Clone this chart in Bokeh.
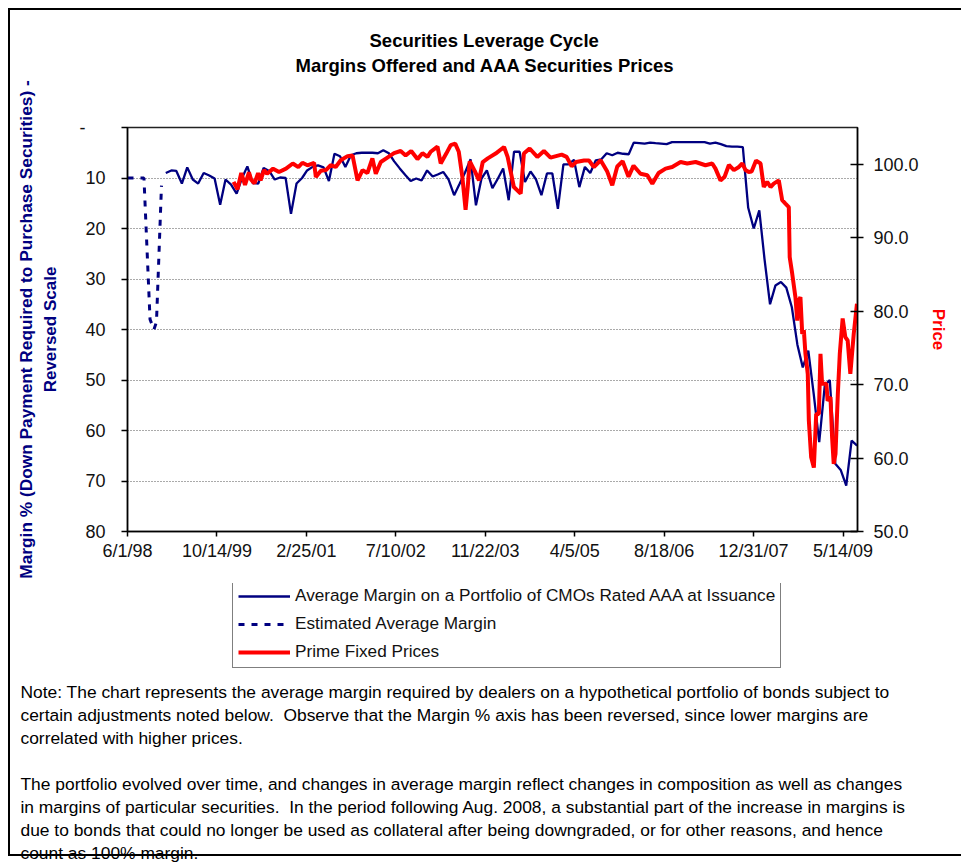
import numpy as np
import pandas as pd
from bokeh.plotting import figure
from bokeh.layouts import column
from bokeh.models import (Range1d, LinearAxis, FixedTicker, Legend, LegendItem, Title,
                          Label, NumeralTickFormatter)
from bokeh.embed import file_html
from bokeh.resources import INLINE

TITLE = ["Securities Leverage Cycle", "Margins Offered and AAA Securities Prices"]
LEFT_TITLE = ["Margin % (Down Payment Required to Purchase Securities) -", "Reversed Scale"]
RIGHT_TITLE = "Price"

tick_dates = ["1998-06-01", "1999-10-14", "2001-02-25", "2002-07-10", "2003-11-22",
              "2005-04-05", "2006-08-18", "2007-12-31", "2009-05-14"]
tick_labels = ["6/1/98", "10/14/99", "2/25/01", "7/10/02", "11/22/03",
               "4/5/05", "8/18/06", "12/31/07", "5/14/09"]
x_end_date = "2009-08-03"
margin_ticks = [0, 10, 20, 30, 40, 50, 60, 70, 80]
margin_grid = [10, 20, 30, 40, 50, 60, 70]
price_ticks = [50, 60, 70, 80, 90, 100]

# Estimated average margin (dashed)
est_dates = ["1998-06-01", "1998-09-01", "1998-10-05", "1998-10-27", "1998-11-10", "1998-12-08"]
est_margin = [10, 10, 38, 40, 38.5, 11.5]

# Average margin, monthly from Jan 1999
margin_start = "1999-01-01"
margin_values = [
    9.0, 8.5, 8.6, 11.1, 7.9, 10.3, 11.1, 9.0, 9.5, 10.1, 15.3, 10.3,
    11.3, 13.1, 10.1, 7.7, 11.0, 11.1, 8.0, 8.6, 10.3, 9.9, 10.0, 17.1,
    11.1, 10.0, 8.5, 7.8, 7.5, 7.9, 10.6, 5.2, 5.7, 7.8, 5.5, 5.1,
    5.0, 5.0, 5.0, 5.1, 4.5, 5.1, 6.7, 8.1, 9.4, 10.6, 10.1, 10.5,
    8.5, 9.7, 9.3, 8.8, 10.3, 13.4, 11.2, 8.9, 6.3, 15.4, 10.1, 8.5,
    12.0, 10.1, 8.1, 14.4, 4.8, 4.8, 10.8, 8.7, 10.3, 13.4, 9.1, 9.1,
    16.1, 7.3, 7.3, 6.4, 11.8, 7.8, 9.0, 6.5, 6.3, 5.1, 5.5, 5.0,
    5.2, 5.3, 3.0, 3.1, 3.2, 3.0, 3.1, 3.2, 3.3, 2.9, 2.9, 2.9,
    2.9, 2.9, 2.9, 2.9, 3.2, 3.0, 3.3, 3.7, 3.8, 3.8, 3.9, 15.9,
    20.0, 16.4, 26.0, 35.0, 31.3, 30.6, 31.7, 35.6, 43.0, 47.5, 44.2, 52.7,
    62.3, 51.1, 50.0, 66.6, 67.8, 70.9, 62.0, 63.0,
]

# Prime fixed prices
price_dates = [
    "2000-01-15", "2000-02-06", "2000-02-27", "2000-03-19", "2000-04-10", "2000-04-22",
    "2000-05-11", "2000-05-31", "2000-06-14", "2000-07-03", "2000-07-20", "2000-08-23",
    "2000-09-25", "2000-11-03", "2000-12-11", "2001-01-11", "2001-02-03", "2001-03-03",
    "2001-04-09", "2001-04-19", "2001-05-17", "2001-06-14", "2001-07-11", "2001-08-08",
    "2001-09-05", "2001-10-13", "2001-11-10", "2001-12-08", "2002-01-05", "2002-02-01",
    "2002-03-01", "2002-03-20", "2002-04-17", "2002-05-24", "2002-06-30", "2002-08-06",
    "2002-09-03", "2002-10-04", "2002-11-08", "2002-12-06", "2003-01-03", "2003-01-21",
    "2003-02-28", "2003-03-18", "2003-04-18", "2003-05-13", "2003-06-07", "2003-06-27",
    "2003-07-17", "2003-08-04", "2003-08-16", "2003-08-27", "2003-09-24", "2003-10-18",
    "2003-11-08", "2003-12-06", "2004-01-19", "2004-03-06", "2004-03-26", "2004-04-30",
    "2004-06-07", "2004-06-25", "2004-07-27", "2004-09-08", "2004-10-15", "2004-11-21",
    "2005-01-22", "2005-02-19", "2005-03-19", "2005-04-13", "2005-05-27", "2005-06-24",
    "2005-07-21", "2005-08-28", "2005-10-04", "2005-11-01", "2005-11-29", "2005-12-29",
    "2006-01-31", "2006-02-28", "2006-04-08", "2006-05-16", "2006-06-13", "2006-07-18",
    "2006-08-26", "2006-10-02", "2006-11-18", "2006-12-25", "2007-02-10", "2007-04-06",
    "2007-05-14", "2007-06-01", "2007-06-29", "2007-07-22", "2007-08-15", "2007-09-12",
    "2007-10-10", "2007-10-29", "2007-11-16", "2007-12-04", "2007-12-20", "2008-01-14",
    "2008-02-08", "2008-02-26", "2008-03-16", "2008-04-04", "2008-04-22", "2008-05-20",
    "2008-06-08", "2008-06-26", "2008-07-15", "2008-07-20", "2008-08-03", "2008-08-21",
    "2008-08-31", "2008-09-09", "2008-09-18", "2008-09-28", "2008-10-07", "2008-10-16",
    "2008-10-29", "2008-11-04", "2008-11-17", "2008-12-02", "2008-12-15", "2008-12-30",
    "2009-01-08", "2009-01-17", "2009-02-10", "2009-02-17", "2009-03-05", "2009-03-14",
    "2009-03-23", "2009-04-02", "2009-04-15", "2009-04-26", "2009-05-12", "2009-05-27",
    "2009-06-09", "2009-06-24", "2009-07-13", "2009-07-31",
]
price_values = [
    97.6, 96.6, 98.8, 97.2, 98.9, 97.9,
    97.4, 98.8, 97.8, 99.2, 98.7, 99.4,
    98.95, 99.4, 100.1, 99.6, 100.2, 99.86,
    100.2, 98.26, 99.1, 99.2, 99.86, 99.63,
    100.54, 101.1, 101.2, 97.8, 99.2, 98.8,
    100.8, 98.7, 100.3, 100.9, 101.5, 101.8,
    101.2, 101.8, 100.7, 101.5, 101.0, 101.7,
    102.4, 100.1, 101.45, 102.6, 102.8, 101.7,
    98.26, 93.8, 96.9, 100.4, 99.1, 97.8,
    100.3, 100.8, 101.45, 102.35, 101.0, 96.9,
    96.0, 101.45, 102.14, 101.0, 101.8, 100.9,
    101.3, 101.0, 99.7, 100.3, 100.5, 100.5,
    99.6, 100.54, 99.0, 97.13, 99.7, 100.4,
    98.3, 99.8, 98.7, 98.5, 97.36, 98.8,
    99.4, 99.63, 100.3, 100.1, 100.3, 99.86,
    100.1, 99.4, 97.8, 98.3, 99.9, 99.2,
    99.63, 100.1, 99.2, 98.95, 99.0, 100.5,
    100.1, 96.9, 97.6, 96.9, 97.36, 97.8,
    95.1, 94.64, 94.17, 87.35, 85.1, 81.9,
    78.7, 81.45, 81.9, 76.9, 77.4, 74.2,
    71.45, 65.1, 60.1, 58.7, 66.0, 66.0,
    74.2, 70.1, 70.1, 67.8, 68.3, 62.8,
    59.2, 60.55, 68.7, 74.2, 79.0, 76.45,
    76.0, 71.45, 76.9, 81.0,
]

LEGEND_LABELS = ["Average Margin on a Portfolio of CMOs Rated AAA at Issuance",
                 "Estimated Average Margin", "Prime Fixed Prices"]

NOTE_LINES = [
    "Note: The chart represents the average margin required by dealers on a hypothetical portfolio of bonds subject to",
    "certain adjustments noted below.\u00a0 Observe that the Margin % axis has been reversed, since lower margins are",
    "correlated with higher prices.",
    "",
    "The portfolio evolved over time, and changes in average margin reflect changes in composition as well as changes",
    "in margins of particular securities.\u00a0 In the period following Aug. 2008, a substantial part of the increase in margins is",
    "due to bonds that could no longer be used as collateral after being downgraded, or for other reasons, and hence",
    "count as 100% margin.",
]

origin = pd.Timestamp(tick_dates[0])


def days(ds):
    return ((pd.to_datetime(pd.Series(ds)) - origin) / pd.Timedelta(days=1)).to_numpy()


margin_dates = pd.date_range(margin_start, periods=len(margin_values), freq="MS")
margin_x = days(margin_dates)
est_x = days(est_dates)
price_x = days(price_dates)
tick_x = [int(v) for v in days(tick_dates)]
x_end = float(days([x_end_date])[0])

FONT = "Liberation Sans"
NAVY = "#000080"
RED = "#FF0000"
W = 961
H1 = 583          # chart part
H2 = 862 - H1     # legend + note part

top_css = ("linear-gradient(#000,#000) 8px 8px / 2px %dpx no-repeat, "
           "linear-gradient(#000,#000) 8px 8px / %dpx 2px no-repeat, #fff") % (H1 - 8, W - 8)
bottom_css = ("linear-gradient(#000,#000) 8px 0px / 2px %dpx no-repeat, "
              "linear-gradient(#000,#000) 8px %dpx / %dpx 2px no-repeat, #fff") % (
                  854 - H1 + 2, 854 - H1, W - 8)

# ---------------- chart ----------------
p = figure(width=W, height=H1, output_backend="svg", toolbar_location=None,
           title=None, x_range=Range1d(0, x_end), y_range=Range1d(80, 0),
           min_border_left=127, min_border_right=104, min_border_top=127,
           min_border_bottom=H1 - 531, background_fill_color="white",
           border_fill_alpha=0, outline_line_color="#222222",
           outline_line_width=1.5, styles={"background": top_css})

p.extra_y_ranges = {"price": Range1d(50, 105)}

p.xaxis.ticker = FixedTicker(ticks=tick_x)
p.xaxis.major_label_overrides = {t: lab for t, lab in zip(tick_x, tick_labels)}
p.yaxis.ticker = FixedTicker(ticks=margin_ticks)
p.yaxis.major_label_overrides = {0: "-\u00a0\u00a0\u00a0\u00a0"}

right = LinearAxis(y_range_name="price", ticker=FixedTicker(ticks=price_ticks),
                   formatter=NumeralTickFormatter(format="0.0"))
p.add_layout(right, "right")

for ax in [p.xaxis[0], p.yaxis[0], right]:
    ax.axis_line_color = "black"
    ax.axis_line_width = 1.5
    ax.major_tick_line_color = "black"
    ax.major_tick_line_width = 1.5
    ax.minor_tick_line_color = None
    ax.major_label_text_font = FONT
    ax.major_label_text_font_size = "18px"
    ax.major_label_text_color = "#111111"
    ax.axis_label_text_font = FONT
    ax.axis_label_text_font_style = "bold"
    ax.axis_label_text_font_size = "17px"

p.xaxis.major_tick_in = 0
p.xaxis.major_tick_out = 5
p.xaxis.major_label_standoff = 4
p.yaxis.major_tick_in = 0
p.yaxis.major_tick_out = 6
p.yaxis.major_label_standoff = 16
p.yaxis.axis_label = LEFT_TITLE[1]
p.yaxis.axis_label_text_color = NAVY
p.yaxis.axis_label_standoff = 17
right.major_tick_in = 7
right.major_tick_out = 6
right.major_label_standoff = 10
right.axis_label = RIGHT_TITLE
right.axis_label_text_color = RED
right.axis_label_standoff = 7

# first line of the left title, on an extra label-only axis
left2 = LinearAxis(ticker=FixedTicker(ticks=[]), axis_label=LEFT_TITLE[0],
                   axis_line_color=None, major_tick_in=0, major_tick_out=0,
                   minor_tick_line_color=None, major_label_standoff=0,
                   axis_label_standoff=2, axis_label_text_font=FONT,
                   axis_label_text_font_style="bold", axis_label_text_font_size="17.3px",
                   axis_label_text_color=NAVY)
p.add_layout(left2, "left")

p.xgrid.visible = False
p.ygrid.ticker = FixedTicker(ticks=margin_grid)
p.ygrid.grid_line_color = "#555555"
p.ygrid.grid_line_dash = "1 2"
p.ygrid.grid_line_width = 1

est_style = dict(line_color=NAVY, line_width=3, line_dash="6 7")
mar_style = dict(line_color=NAVY, line_width=2.3)
pr_style = dict(line_color=RED, line_width=4)

p.line(est_x, est_margin, **est_style)
p.line(margin_x, margin_values, **mar_style)
p.line(price_x, price_values, y_range_name="price", **pr_style)

p.add_layout(Title(text="\u00a0", text_font_size="1px", standoff=47), "above")
for txt, off, so in zip(TITLE[::-1], [168, 242], [4, 0]):
    p.add_layout(Title(text=txt, align="left", offset=off, standoff=so,
                       text_font=FONT, text_font_style="bold",
                       text_font_size="18.5px", text_color="black"), "above")

# ---------------- legend + notes ----------------
q = figure(width=W, height=H2, output_backend="svg", toolbar_location=None,
           title=None, x_axis_location=None, y_axis_location=None,
           x_range=Range1d(0, 1), y_range=Range1d(0, 1), min_border=0,
           min_border_left=0, min_border_right=0, min_border_top=0, min_border_bottom=0,
           background_fill_alpha=0, border_fill_alpha=0, outline_line_color=None,
           styles={"background": bottom_css})
q.grid.visible = False
for fig in (p, q):
    if "frame_align" in fig.properties():
        fig.frame_align = False

# legend proxies carry the same series (they fall outside this panel's ranges)
r_mar = q.line(margin_x, margin_values, **mar_style)
r_est = q.line(est_x, est_margin, **est_style)
r_pr = q.line(price_x, price_values, **pr_style)

legend_top = 584 - H1
legend_h = 84
legend = Legend(items=[LegendItem(label=LEGEND_LABELS[0], renderers=[r_mar]),
                       LegendItem(label=LEGEND_LABELS[1], renderers=[r_est]),
                       LegendItem(label=LEGEND_LABELS[2], renderers=[r_pr])],
                location=(232, H2 - legend_top - legend_h), orientation="vertical",
                border_line_color="black", border_line_width=1,
                background_fill_color="white", background_fill_alpha=1,
                label_text_font=FONT, label_text_font_size="17.2px",
                label_text_color="#111111",
                glyph_width=52, glyph_height=20, label_height=20,
                spacing=7, padding=5, margin=0, label_standoff=5)
q.add_layout(legend)

for i, line in enumerate(NOTE_LINES):
    if not line:
        continue
    yc = 691 + 23 * i
    q.add_layout(Label(x=20, y=H2 - (yc - H1), x_units="screen", y_units="screen",
                       text=line, text_font=FONT, text_font_size="17.4px",
                       text_align="left", text_baseline="middle", text_color="black"))

layout = column(p, q, spacing=0)
open("out.html", "w").write(file_html(layout, INLINE))
